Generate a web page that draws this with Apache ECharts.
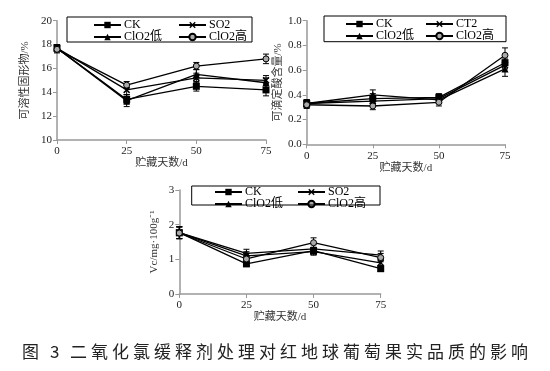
<!DOCTYPE html>
<html><head><meta charset="utf-8">
<script src="https://cdn.jsdelivr.net/npm/echarts@6/dist/echarts.min.js"></script>
<style>html,body{margin:0;padding:0;background:#fff}#c{width:550px;height:371px}</style>
</head><body><div id="c"></div>
<script>
// ---- data ----
const days = [0, 25, 50, 75];
const xTicks = ['0', '25', '50', '75'];
// chart 1: soluble solids (%)
const tssCK   = [17.7, 13.4, 14.5, 14.2];
const tssSO2  = [17.7, 14.2, 15.2, 15.0];
const tssLow  = [17.7, 13.3, 15.5, 14.8];
const tssHigh = [17.6, 14.6, 16.2, 16.8];
const tssErrCK   = [0.3, 0.4, 0.4, 0.5];
const tssErrSO2  = [0.3, 0.4, 0.4, 0.4];
const tssErrLow  = [0.3, 0.5, 0.4, 0.4];
const tssErrHigh = [0.3, 0.3, 0.3, 0.4];
// chart 2: titratable acid (%)
const taCK   = [0.33, 0.37, 0.38, 0.66];
const taCT2  = [0.33, 0.35, 0.37, 0.64];
const taLow  = [0.33, 0.40, 0.36, 0.61];
const taHigh = [0.32, 0.31, 0.34, 0.72];
const taErrCK   = [0.03, 0.04, 0.03, 0.05];
const taErrCT2  = [0.03, 0.04, 0.03, 0.05];
const taErrLow  = [0.03, 0.04, 0.03, 0.06];
const taErrHigh = [0.03, 0.03, 0.03, 0.06];
// chart 3: Vc (mg/100g)
const vcCK   = [1.77, 0.87, 1.25, 0.73];
const vcSO2  = [1.77, 1.10, 1.22, 0.90];
const vcLow  = [1.77, 1.17, 1.30, 1.12];
const vcHigh = [1.76, 1.01, 1.48, 1.05];
const vcErrCK   = [0.17, 0.08, 0.10, 0.08];
const vcErrSO2  = [0.17, 0.12, 0.10, 0.10];
const vcErrLow  = [0.17, 0.12, 0.12, 0.12];
const vcErrHigh = [0.17, 0.10, 0.14, 0.12];

const yTicks1 = [10, 12, 14, 16, 18, 20];
const yTicks2 = [0.0, 0.2, 0.4, 0.6, 0.8, 1.0];
const yTicks3 = [0, 1, 2, 3];
const caption = '图3二氧化氯缓释剂处理对红地球葡萄果实品质的影响';

// ---- styles ----
const SERIF = '"Liberation Serif","Noto Sans CJK SC",serif';
const xPath = 'path://M0,1.5L1.5,0L5,3.5L8.5,0L10,1.5L6.5,5L10,8.5L8.5,10L5,6.5L1.5,10L0,8.5L3.5,5Z';
const markers = {
  CK:   {symbol: 'rect', symbolSize: 7, itemStyle: {color: '#000'}},
  X:    {symbol: xPath, symbolSize: 7, itemStyle: {color: '#000'}},
  Low:  {symbol: 'triangle', symbolSize: 7, itemStyle: {color: '#000'}},
  High: {symbol: 'circle', symbolSize: 6, itemStyle: {color: '#aaa', borderColor: '#000', borderWidth: 1}}
};

function lineSeries(name, vals, mk, gi) {
  return Object.assign({
    type: 'line', name: name, xAxisIndex: gi, yAxisIndex: gi,
    data: days.map((d, i) => [d, vals[i]]),
    showSymbol: true, lineStyle: {color: '#000', width: 1.3},
    emphasis: {disabled: true}, animation: false, z: 3
  }, JSON.parse(JSON.stringify(mk)));
}
function errSeries(vals, errs, gi) {
  return {
    type: 'custom', xAxisIndex: gi, yAxisIndex: gi, silent: true, animation: false, z: 2,
    data: days.map((d, i) => [d, vals[i] - errs[i], vals[i] + errs[i]]),
    renderItem: function (params, api) {
      const lo = api.coord([api.value(0), api.value(1)]);
      const hi = api.coord([api.value(0), api.value(2)]);
      const w = 3;
      const st = {stroke: '#000', lineWidth: 1};
      return {type: 'group', children: [
        {type: 'line', shape: {x1: lo[0], y1: lo[1], x2: hi[0], y2: hi[1]}, style: st},
        {type: 'line', shape: {x1: lo[0] - w, y1: lo[1], x2: lo[0] + w, y2: lo[1]}, style: st},
        {type: 'line', shape: {x1: hi[0] - w, y1: hi[1], x2: hi[0] + w, y2: hi[1]}, style: st}
      ]};
    }
  };
}

const grids = [
  {left: 57, top: 20.7, width: 209, height: 119.3},
  {left: 306.7, top: 20.7, width: 198.3, height: 123.6},
  {left: 179.3, top: 190, width: 201.4, height: 104}
];
const axisLineStyle = {lineStyle: {color: '#999', width: 1.5}};
const tickStyle = {show: true, inside: false, length: 4, lineStyle: {color: '#999', width: 1}};
function xAxis(gi, gap) {
  return {type: 'value', gridIndex: gi, min: days[0], max: days[days.length - 1], interval: 25,
    splitLine: {show: false}, axisLine: axisLineStyle, axisTick: tickStyle,
    axisLabel: {fontFamily: SERIF, fontSize: 11, color: '#222', margin: 6,
      formatter: v => xTicks[days.indexOf(v)] ?? ''},
    name: '贮藏天数/d', nameLocation: 'middle', nameGap: gap,
    nameTextStyle: {fontFamily: SERIF, fontSize: 11, color: '#333'}};
}
function yAxis(gi, ticks, name, gap, dec) {
  return {type: 'value', gridIndex: gi, min: ticks[0], max: ticks[ticks.length - 1],
    interval: ticks[1] - ticks[0], splitLine: {show: false},
    axisLine: Object.assign({show: true, onZero: false}, axisLineStyle), axisTick: tickStyle,
    axisLabel: {fontFamily: SERIF, fontSize: 11, color: '#222', margin: 5,
      formatter: v => v.toFixed(dec)},
    name: name, nameLocation: 'middle', nameGap: gap, nameRotate: 90,
    nameTextStyle: {fontFamily: SERIF, fontSize: 11, color: '#333'}};
}

function legend(names, left, top, lh) {
  return {orient: 'vertical', left: left, top: top, padding: 0, itemGap: 0,
    itemWidth: 27, itemHeight: 8, selectedMode: false, data: names,
    textStyle: {fontFamily: SERIF, fontSize: 12, color: '#000', lineHeight: lh, padding: [0, 0, 0, -2]}};
}

const series = [
  errSeries(tssCK, tssErrCK, 0), errSeries(tssSO2, tssErrSO2, 0),
  errSeries(tssLow, tssErrLow, 0), errSeries(tssHigh, tssErrHigh, 0),
  lineSeries('CK', tssCK, markers.CK, 0), lineSeries('SO2', tssSO2, markers.X, 0),
  lineSeries('ClO2低', tssLow, markers.Low, 0), lineSeries('ClO2高', tssHigh, markers.High, 0),
  errSeries(taCK, taErrCK, 1), errSeries(taCT2, taErrCT2, 1),
  errSeries(taLow, taErrLow, 1), errSeries(taHigh, taErrHigh, 1),
  lineSeries('CK', taCK, markers.CK, 1), lineSeries('CT2', taCT2, markers.X, 1),
  lineSeries('ClO2低', taLow, markers.Low, 1), lineSeries('ClO2高', taHigh, markers.High, 1),
  errSeries(vcCK, vcErrCK, 2), errSeries(vcSO2, vcErrSO2, 2),
  errSeries(vcLow, vcErrLow, 2), errSeries(vcHigh, vcErrHigh, 2),
  lineSeries('CK', vcCK, markers.CK, 2), lineSeries('SO2', vcSO2, markers.X, 2),
  lineSeries('ClO2低', vcLow, markers.Low, 2), lineSeries('ClO2高', vcHigh, markers.High, 2)
];

const capChars = caption.split('');
const capX = [22, 50].concat(capChars.slice(2).map((c, i) => 70 + i * 21));
const graphic = [
  {type: 'rect', shape: {x: 67, y: 17, width: 185, height: 25}, style: {fill: 'none', stroke: '#000', lineWidth: 1}, z: 10},
  {type: 'rect', shape: {x: 324, y: 16, width: 182, height: 25.7}, style: {fill: 'none', stroke: '#000', lineWidth: 1}, z: 10},
  {type: 'rect', shape: {x: 191.7, y: 186, width: 188.3, height: 19}, style: {fill: 'none', stroke: '#000', lineWidth: 1}, z: 10}
].concat(capChars.map((c, i) => ({
  type: 'text', left: capX[i], top: 343,
  style: {text: c, fontFamily: '"Noto Sans CJK SC",sans-serif', fontWeight: 'normal', fontSize: 17, fill: '#222'}
})));

const chart = echarts.init(document.getElementById('c'), null, {renderer: 'canvas'});
chart.setOption({
  animation: false,
  backgroundColor: '#fff',
  grid: grids,
  xAxis: [xAxis(0, 16), xAxis(1, 14), xAxis(2, 12)],
  yAxis: [yAxis(0, yTicks1, '可溶性固形物/%', 26, 0), yAxis(1, yTicks2, '可滴定酸含量/%', 16, 1),
          yAxis(2, yTicks3, 'Vc/mg·100g⁻¹', 20, 0)],
  legend: [
    legend(['CK', 'ClO2低'], 93, 19, 11), legend(['SO2', 'ClO2高'], 178, 19, 11),
    legend(['CK', 'ClO2低'], 345, 18, 11), legend(['CT2', 'ClO2高'], 425, 18, 11),
    legend(['CK', 'ClO2低'], 214, 186, 10), legend(['SO2', 'ClO2高'], 297, 186, 10)
  ],
  graphic: graphic,
  series: series
});
</script></body></html>
